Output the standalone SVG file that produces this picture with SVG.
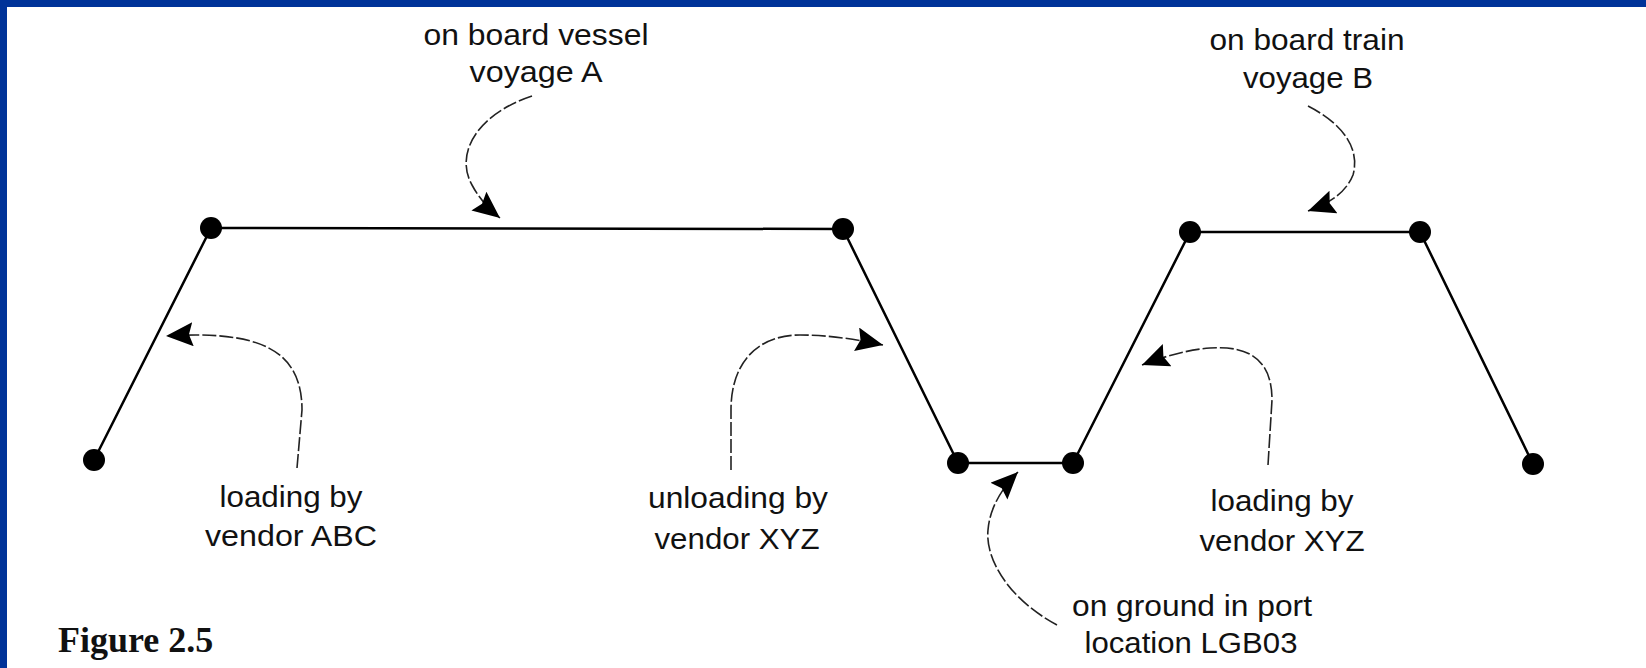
<svg xmlns="http://www.w3.org/2000/svg" width="1646" height="668" viewBox="0 0 1646 668">
<style>
.dot{fill:#000}
.track{fill:none;stroke:#000;stroke-width:2.5;stroke-linejoin:round}
.call{fill:none;stroke:#222;stroke-width:1.6;stroke-dasharray:14 3}
.lbl{font-family:"Liberation Sans",Arial,sans-serif;font-size:30px;fill:#111;text-anchor:middle}
.fig{font-family:"Liberation Serif","Times New Roman",serif;font-size:36px;font-weight:bold;fill:#111}
</style>
<defs>
<marker id="ah" markerUnits="userSpaceOnUse" markerWidth="30" markerHeight="26" refX="27" refY="12" orient="auto">
<path d="M0,0 L27,12 L0,24 L4,12 Z" fill="#000"/>
</marker>
</defs>
<rect x="0" y="0" width="1646" height="668" fill="#fff"/>
<rect x="0" y="0" width="1646" height="7" fill="#003399"/>
<rect x="0" y="0" width="7" height="668" fill="#003399"/>

<g id="connectors">
<polyline class="track" points="94,460 211,228 843,229 958,463 1073,463 1190,232 1420,232 1533,464"/>
<path class="call" marker-end="url(#ah)" d="M297,468 L302,410 C302,350 260,330 166,336"/>
<path class="call" marker-end="url(#ah)" d="M532,96 C475,115 455,155 472,185 C480,200 490,210 500,218"/>
<path class="call" marker-end="url(#ah)" d="M731,470 L731,410 C731,360 760,335 800,335 C830,335 860,340 883,345"/>
<path class="call" marker-end="url(#ah)" d="M1308,106 C1345,125 1360,150 1353,175 C1345,195 1325,205 1308,211"/>
<path class="call" marker-end="url(#ah)" d="M1268,465 L1272,400 C1272,365 1255,345 1210,348 C1185,350 1160,358 1142,365"/>
<path class="call" marker-end="url(#ah)" d="M1057,625 C1010,600 985,560 988,530 C990,505 1005,485 1018,472"/>
</g>

<g id="n1"><circle class="dot" cx="94" cy="460" r="11"/></g>
<g id="n2"><circle class="dot" cx="211" cy="228" r="11"/></g>
<g id="n3"><circle class="dot" cx="843" cy="229" r="11"/></g>
<g id="n4"><circle class="dot" cx="958" cy="463" r="11"/></g>
<g id="n5"><circle class="dot" cx="1073" cy="463" r="11"/></g>
<g id="n6"><circle class="dot" cx="1190" cy="232" r="11"/></g>
<g id="n7"><circle class="dot" cx="1420" cy="232" r="11"/></g>
<g id="n8"><circle class="dot" cx="1533" cy="464" r="11"/></g>

<g id="lbl-vessel">
<text class="lbl" x="536" y="45" textLength="225" lengthAdjust="spacingAndGlyphs">on board vessel</text>
<text class="lbl" x="536" y="82" textLength="133" lengthAdjust="spacingAndGlyphs">voyage A</text>
</g>
<g id="lbl-train">
<text class="lbl" x="1307" y="50" textLength="195" lengthAdjust="spacingAndGlyphs">on board train</text>
<text class="lbl" x="1308" y="88" textLength="130" lengthAdjust="spacingAndGlyphs">voyage B</text>
</g>
<g id="lbl-abc">
<text class="lbl" x="291" y="507" textLength="143" lengthAdjust="spacingAndGlyphs">loading by</text>
<text class="lbl" x="291" y="546" textLength="172" lengthAdjust="spacingAndGlyphs">vendor ABC</text>
</g>
<g id="lbl-unload">
<text class="lbl" x="738" y="508" textLength="180" lengthAdjust="spacingAndGlyphs">unloading by</text>
<text class="lbl" x="737" y="549" textLength="165" lengthAdjust="spacingAndGlyphs">vendor XYZ</text>
</g>
<g id="lbl-loadxyz">
<text class="lbl" x="1282" y="511" textLength="143" lengthAdjust="spacingAndGlyphs">loading by</text>
<text class="lbl" x="1282" y="551" textLength="165" lengthAdjust="spacingAndGlyphs">vendor XYZ</text>
</g>
<g id="lbl-ground">
<text class="lbl" x="1192" y="616" textLength="240" lengthAdjust="spacingAndGlyphs">on ground in port</text>
<text class="lbl" x="1191" y="653" textLength="213" lengthAdjust="spacingAndGlyphs">location LGB03</text>
</g>
<g id="caption">
<text class="fig" x="58" y="652">Figure 2.5</text>
</g>
</svg>
